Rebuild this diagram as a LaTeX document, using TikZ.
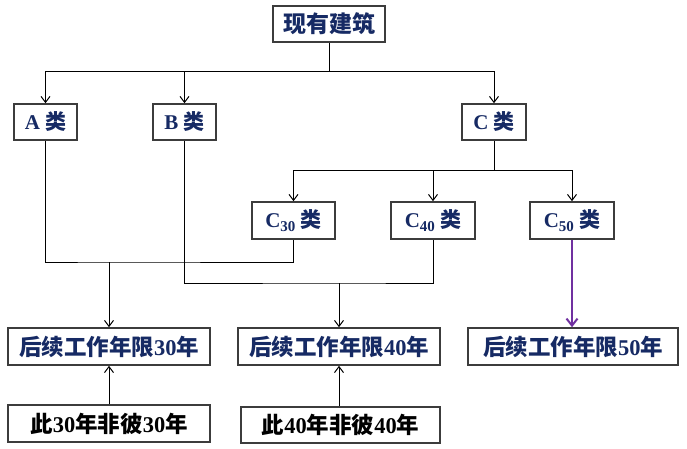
\documentclass[tikz,border=0pt]{standalone}
\usepackage{fontspec}
\setmainfont{Liberation Serif}
\newfontfamily\cjk{Noto Sans CJK SC}
\usetikzlibrary{arrows.meta}
\definecolor{navy}{RGB}{22,42,100}
\definecolor{boxline}{RGB}{60,60,60}
\definecolor{purp}{RGB}{112,48,160}
\newcommand\zh[1]{{\cjk\bfseries #1}}
\newcommand\sub[1]{\raisebox{-0.35ex}{\fontsize{15}{15}\selectfont #1}}
\tikzset{
  box/.style={draw=boxline, line width=1.6pt, fill=white, inner sep=0pt, minimum height=36pt, font=\fontsize{21}{23}\selectfont\bfseries, text=navy},
  longtext/.style={font=\fontsize{22.5}{24}\selectfont\bfseries},
  blackbox/.style={box, longtext, text=black},
  conn/.style={draw=black, line width=1pt},
  arr/.style={conn, -{Straight Barb[length=6pt,width=9pt,line width=1pt]}},
  parr/.style={draw=purp, line width=2pt, -{Straight Barb[length=7pt,width=11pt,line width=2pt]}}
}
\begin{document}
\begin{tikzpicture}[x=1pt,y=-1pt]
\useasboundingbox[fill=white] (0,0) rectangle (687,449);
\node[box, minimum width=112pt, font=\fontsize{23}{25}\selectfont\bfseries] (top) at (329,24) {\zh{现有建筑}};
\node[box, minimum width=63pt] (A) at (45.5,122) {A \zh{类}};
\node[box, minimum width=63pt] (B) at (184.5,122) {B \zh{类}};
\node[box, minimum width=64pt] (C) at (494,122) {C \zh{类}};
\node[box, minimum width=83pt, minimum height=37pt] (C30) at (293.5,220.5) {C\sub{30} \zh{类}};
\node[box, minimum width=84pt, minimum height=37pt] (C40) at (433,220.5) {C\sub{40} \zh{类}};
\node[box, minimum width=84pt, minimum height=37pt] (C50) at (572,220.5) {C\sub{50} \zh{类}};
\node[box, longtext, minimum width=202pt, minimum height=37pt] (F30) at (109,346.5) {\zh{后续工作年限}30\zh{年}};
\node[box, longtext, minimum width=202pt, minimum height=37pt] (F40) at (339,346.5) {\zh{后续工作年限}40\zh{年}};
\node[box, longtext, minimum width=210pt, minimum height=37pt] (F50) at (573,346.5) {\zh{后续工作年限}50\zh{年}};
\node[blackbox, minimum width=202pt, minimum height=37pt] (B30) at (109,423.5) {\zh{此}30\zh{年非彼}30\zh{年}};
\node[blackbox, minimum width=199pt, minimum height=36pt] (B40) at (340.5,425) {\zh{此}40\zh{年非彼}40\zh{年}};
% top split
\coordinate (h1) at (329,72);
\draw[conn] (top.south) -- (h1);
\draw[arr] (h1) -| (A.north);
\draw[arr] (h1) -| (B.north);
\draw[arr] (h1) -| (C.north);
% C split
\coordinate (h2) at (494,170);
\draw[conn] (C.south) -- (h2);
\draw[arr] (h2) -| (C30.north);
\draw[arr] (h2) -| (C40.north);
\draw[arr] (h2) -| (C50.north);
% A + C30 -> F30
\coordinate (ja) at (109,262);
\draw[conn] (A.south) |- (ja) -| (C30.south);
\draw[arr] (ja) -- (F30.north);
% B + C40 -> F40
\coordinate (jb) at (339,283);
\draw[conn] (B.south) |- (jb) -| (C40.south);
\draw[arr] (jb) -- (F40.north);
% C50 -> F50
\draw[parr] (C50.south) -- (C50.south |- F50.north);
% bottom
\draw[arr] (B30.north) -- (F30.south);
\draw[arr] (B40.north -| F40.south) -- (F40.south);
\end{tikzpicture}
\end{document}
